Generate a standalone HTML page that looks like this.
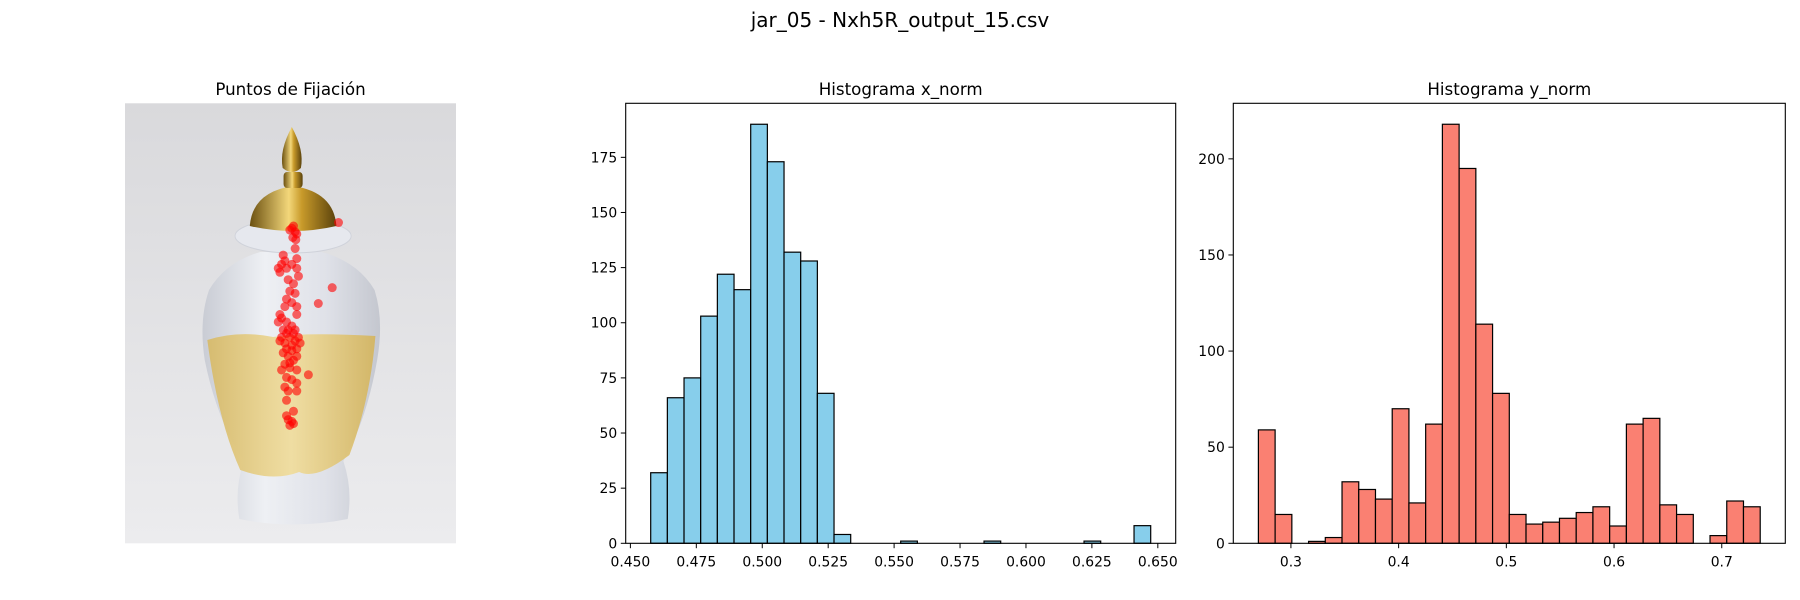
<!DOCTYPE html>
<html><head><meta charset="utf-8"><style>
html,body{margin:0;padding:0;background:#fff;}
svg{display:block;font-family:"DejaVu Sans","Liberation Sans",sans-serif;}
</style></head><body>
<svg id="fig" width="1800" height="600" viewBox="0 0 1800 600" xmlns="http://www.w3.org/2000/svg">
<defs>
<linearGradient id="bg" x1="0" y1="0" x2="0" y2="1"><stop offset="0" stop-color="#d9d9dc"/><stop offset="1" stop-color="#ececee"/></linearGradient>
<linearGradient id="gold" x1="0" y1="0" x2="1" y2="0"><stop offset="0" stop-color="#6b5010"/><stop offset="0.45" stop-color="#f3d77a"/><stop offset="0.6" stop-color="#c89a2a"/><stop offset="1" stop-color="#5a420c"/></linearGradient>
<linearGradient id="body" x1="0" y1="0" x2="1" y2="0"><stop offset="0" stop-color="#c9ccd4"/><stop offset="0.35" stop-color="#eef0f4"/><stop offset="0.7" stop-color="#dfe1e8"/><stop offset="1" stop-color="#c4c7cf"/></linearGradient>
<linearGradient id="band" x1="0" y1="0" x2="1" y2="0"><stop offset="0" stop-color="#d7b965"/><stop offset="0.5" stop-color="#f0dc9a"/><stop offset="1" stop-color="#d4b45c"/></linearGradient>
</defs>
<text x="900" y="27" font-size="20" text-anchor="middle">jar_05 - Nxh5R_output_15.csv</text>

<g>
<text x="290.5" y="95" font-size="16.7" text-anchor="middle">Puntos de Fijación</text>
<rect x="125" y="103.3" width="331" height="440" fill="url(#bg)"/>
<g transform="translate(125,0) scale(0.8665,1) translate(-129,0)">
<path d="M261,519 Q255,490 266,461 Q235,420 221,360 Q214,320 226,290 Q245,262 285,252 L356,252 Q398,262 417,290 Q428,320 420,360 Q408,420 381,461 Q392,490 386,519 Q323,530 261,519 Z" fill="url(#body)"/>
<path d="M224,340 Q260,330 300,337 Q340,332 418,336 Q412,400 388,455 Q350,480 330,472 Q300,482 262,470 Q236,420 224,340 Z" fill="url(#band)" opacity="0.9"/>
<ellipse cx="323" cy="236" rx="67" ry="17" fill="#e6e8ee" stroke="#cfd2da"/>
<path d="M273,226 Q276,192 323,186 Q370,192 373,226 Q323,236 273,226 Z" fill="url(#gold)"/>
<rect x="312" y="172" width="22" height="16" rx="4" fill="url(#gold)"/>
<path d="M321.5,127 Q336,150 332,168 Q322,176 311,168 Q307,150 321.5,127 Z" fill="url(#gold)"/>
</g>
<g id="fixations"></g>
</g>

<g id="xhist"></g>
<g id="yhist"></g>
</svg>
<script>
const NS="http://www.w3.org/2000/svg";
// ---- fixation data (normalized image coords) ----
const fixX=[0.504,0.509,0.498,0.514,0.519,0.507,0.516,0.514,0.519,0.478,0.473,0.463,0.468,0.483,0.488,0.504,0.519,0.524,0.493,0.509,0.498,0.514,0.488,0.504,0.483,0.519,0.468,0.463,0.473,0.488,0.504,0.519,0.509,0.488,0.473,0.468,0.483,0.498,0.514,0.524,0.529,0.488,0.504,0.519,0.478,0.493,0.509,0.519,0.483,0.498,0.473,0.519,0.488,0.504,0.519,0.483,0.493,0.519,0.488,0.488,0.493,0.504,0.509,0.498,0.645,0.626,0.584,0.554,0.493,0.504,0.514,0.478,0.498,0.509];
const fixY=[0.284,0.279,0.288,0.292,0.297,0.305,0.310,0.330,0.353,0.345,0.366,0.375,0.384,0.358,0.375,0.366,0.375,0.393,0.401,0.410,0.427,0.432,0.445,0.453,0.462,0.462,0.480,0.497,0.488,0.497,0.506,0.480,0.523,0.523,0.532,0.540,0.545,0.532,0.540,0.532,0.545,0.558,0.562,0.558,0.567,0.575,0.584,0.575,0.593,0.601,0.606,0.606,0.623,0.628,0.636,0.645,0.654,0.654,0.675,0.710,0.719,0.723,0.728,0.732,0.271,0.419,0.455,0.617,0.515,0.550,0.515,0.515,0.590,0.700];
const img={l:125,t:103.3,w:331,h:440};
const fg=document.getElementById('fixations');
for(let i=0;i<fixX.length;i++){
  const c=document.createElementNS(NS,'circle');
  c.setAttribute('cx',img.l+fixX[i]*img.w);
  c.setAttribute('cy',img.t+fixY[i]*img.h);
  c.setAttribute('r',4.5);
  c.setAttribute('fill','rgba(255,0,0,0.6)');
  
  
  fg.appendChild(c);
}

// ---- x_norm histogram data ----
const xStart=0.4577, xBinW=0.00632;
const xCounts=[32,66,75,103,122,115,190,173,132,128,68,4,0,0,0,1,0,0,0,0,1,0,0,0,0,0,1,0,0,8];
const xXTicks=[0.450,0.475,0.500,0.525,0.550,0.575,0.600,0.625,0.650];
const xXTickLabels=["0.450","0.475","0.500","0.525","0.550","0.575","0.600","0.625","0.650"];
const xYTicks=[0,25,50,75,100,125,150,175];
// ---- y_norm histogram data ----
const yStart=0.2698, yBinW=0.01553;
const yCounts=[59,15,0,1,3,32,28,23,70,21,62,218,195,114,78,15,10,11,13,16,19,9,62,65,20,15,0,4,22,19];
const yXTicks=[0.3,0.4,0.5,0.6,0.7];
const yXTickLabels=["0.3","0.4","0.5","0.6","0.7"];
const yYTicks=[0,50,100,150,200];

function el(tag,attrs,parent,txt){const e=document.createElementNS(NS,tag);for(const k in attrs)e.setAttribute(k,attrs[k]);if(txt!==undefined)e.textContent=txt;parent.appendChild(e);return e;}

function hist(gid,box,title,start,bw,counts,xt,xtl,yt,fill){
  const g=document.getElementById(gid);
  const n=counts.length, lo=start, hi=start+n*bw, m=(hi-lo)*0.05;
  const x0=lo-m, x1=hi+m, ymax=Math.max(...counts)*1.05;
  const sx=v=>box.l+(v-x0)/(x1-x0)*box.w;
  const sy=v=>box.t+box.h-(v/ymax)*box.h;
  const tt=el('text',{x:box.l+box.w/2,y:box.t-8.3,'font-size':16.7,'text-anchor':'middle'},g,title);
  
  
  for(let i=0;i<n;i++){
    if(counts[i]<=0)continue;
    const a=sx(lo+i*bw), b=sx(lo+(i+1)*bw);
    const r=el('rect',{x:a,y:sy(counts[i]),width:b-a,height:sy(0)-sy(counts[i]),fill:fill,stroke:'#000','stroke-width':1.2},g);
    
    
  }
  const fr=el('rect',{x:box.l,y:box.t,width:box.w,height:box.h,fill:'none',stroke:'#000','stroke-width':1.1},g);
  
  
  xt.forEach((v,i)=>{
    const x=sx(v);
    el('line',{x1:x,x2:x,y1:box.t+box.h,y2:box.t+box.h+4.9,stroke:'#000','stroke-width':1},g);
    const t=el('text',{x:x,y:box.t+box.h+23,'font-size':13.9,'text-anchor':'middle'},g,xtl[i]);
    
    
  });
  yt.forEach(v=>{
    const y=sy(v);
    el('line',{x1:box.l-4.9,x2:box.l,y1:y,y2:y,stroke:'#000','stroke-width':1},g);
    const t=el('text',{x:box.l-8.5,y:y+5,'font-size':13.9,'text-anchor':'end'},g,String(v));
    
    
  });
}
hist('xhist',{l:625.7,t:103.3,w:550,h:440},'Histograma x_norm',xStart,xBinW,xCounts,xXTicks,xXTickLabels,xYTicks,'#87CEEB');
hist('yhist',{l:1233.3,t:103.3,w:552,h:440},'Histograma y_norm',yStart,yBinW,yCounts,yXTicks,yXTickLabels,yYTicks,'#FA8072');
</script>
</body></html>
